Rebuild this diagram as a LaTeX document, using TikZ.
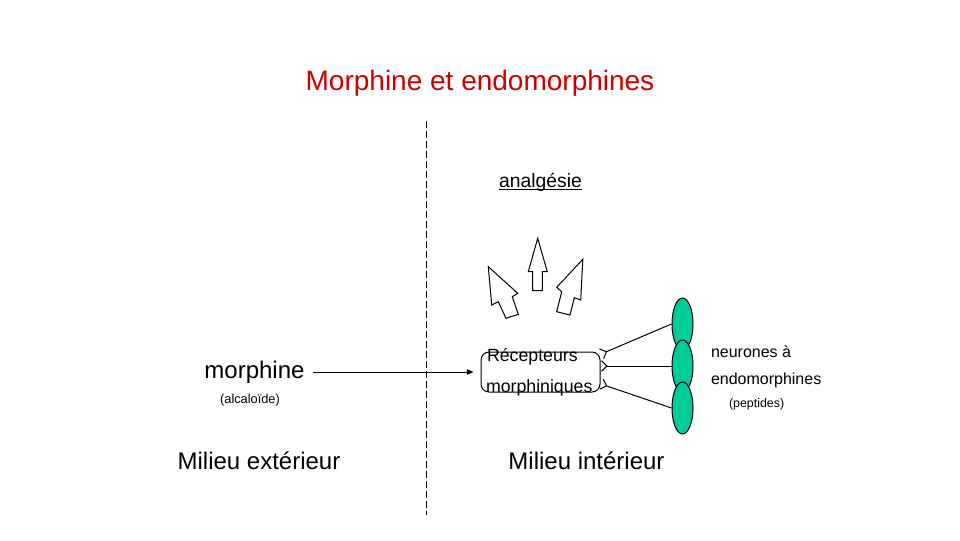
\documentclass[tikz,border=0pt]{standalone}
\usepackage{fontspec}
\setmainfont{Liberation Sans}
\usetikzlibrary{arrows.meta,shapes.geometric}
\definecolor{titlered}{HTML}{CC0000}
\definecolor{neurongreen}{HTML}{00CC99}
\tikzset{
  txt/.style={inner sep=0pt, outer sep=0pt},
  blockarrow/.style={draw=black, fill=white, line width=0.75pt, line join=miter},
  neuron/.style={ellipse, draw=black, line width=0.75pt, fill=neurongreen, minimum width=15.75pt, minimum height=39pt, inner sep=0pt},
  recbox/.style={draw=black, line width=0.75pt, rounded corners=6pt, minimum width=89.25pt, minimum height=30pt, inner sep=0pt},
  link/.style={draw=black, line width=0.75pt, -{Straight Barb[reversed,length=4pt,width=8pt]}},
  divider/.style={draw=black, line width=0.75pt, dash pattern=on 5pt off 2.5pt}
}
\begin{document}
\begin{tikzpicture}[x=0.75pt,y=-0.75pt]
\useasboundingbox (0,0) rectangle (960,540);
\fill[white] (0,0) rectangle (960,540);

% title
\node[txt, text=titlered, font=\fontsize{21}{25}\selectfont] (title) at (480,83) {Morphine et endomorphines};

% divider
\coordinate (dtop) at (426,121);
\coordinate (dbot) at (426,515);
\draw[divider] (dtop) -- (dbot);

% left side
\node[txt, font=\fontsize{18}{22}\selectfont] (morph) at (254.5,372) {morphine};
\node[txt, font=\fontsize{9.6}{12}\selectfont] (alc) at (250,400) {(alcaloïde)};
\node[txt, font=\fontsize{18}{22}\selectfont] (ext) at (259,461) {Milieu extérieur};
\node[txt, font=\fontsize{18}{22}\selectfont] (int) at (586.5,461) {Milieu intérieur};

% analgesie
\node[txt, font=\fontsize{14.5}{18}\selectfont] (analg) at (540.5,182.5) {analgésie};
\draw[line width=0.75pt] ([yshift=-1.6pt]analg.base west) -- ([yshift=-1.6pt]analg.base east);

% block arrows
\path[blockarrow] (488.3,266.7) -- (517.7,293.3) -- (512.3,296.7) -- (518.3,314.3) -- (506,318.3) -- (498.3,301.7) -- (491.7,305) -- cycle;
\path[blockarrow] (537.7,238.3) -- (547.3,271.7) -- (542.3,271.7) -- (542.3,290.7) -- (532.7,290.7) -- (532.7,271.7) -- (528.3,271.7) -- cycle;
\path[blockarrow] (582.8,259.3) -- (580.7,300) -- (574.3,297.7) -- (570,315) -- (556.7,311.7) -- (561.7,291.7) -- (556.7,287.3) -- cycle;

% receptor box
\node[recbox] (rec) at (540.5,372) {};
\node[txt, font=\fontsize{13.3}{16}\selectfont, anchor=west] (rec1) at (487,357) {Récepteurs};
\node[txt, font=\fontsize{13.3}{16}\selectfont, anchor=west] (rec2) at (486,388) {morphiniques};

% morphine arrow
\draw[line width=0.75pt, -{Triangle[length=5pt,width=4pt]}] ([xshift=6pt]morph.east) -- ([xshift=-5.25pt]rec.west);

% neurons
\node[neuron] (n1) at (682.5,324) {};
\node[neuron] (n2) at (682.5,366) {};
\node[neuron] (n3) at (682.5,408) {};

% links
\coordinate (r1) at (601,354);
\coordinate (r2) at (601,366);
\coordinate (r3) at (601,384);
\draw[link] (n1.west) -- (r1);
\draw[link] (n2.west) -- (r2);
\draw[link] (n3.west) -- (r3);

% neuron labels
\node[txt, font=\fontsize{12}{14}\selectfont, anchor=west] (nl1) at (711,352) {neurones à};
\node[txt, font=\fontsize{12}{14}\selectfont, anchor=west] (nl2) at (711,380) {endomorphines};
\node[txt, font=\fontsize{9.3}{11}\selectfont, anchor=west] (nl3) at (729,404.5) {(peptides)};
\end{tikzpicture}
\end{document}
